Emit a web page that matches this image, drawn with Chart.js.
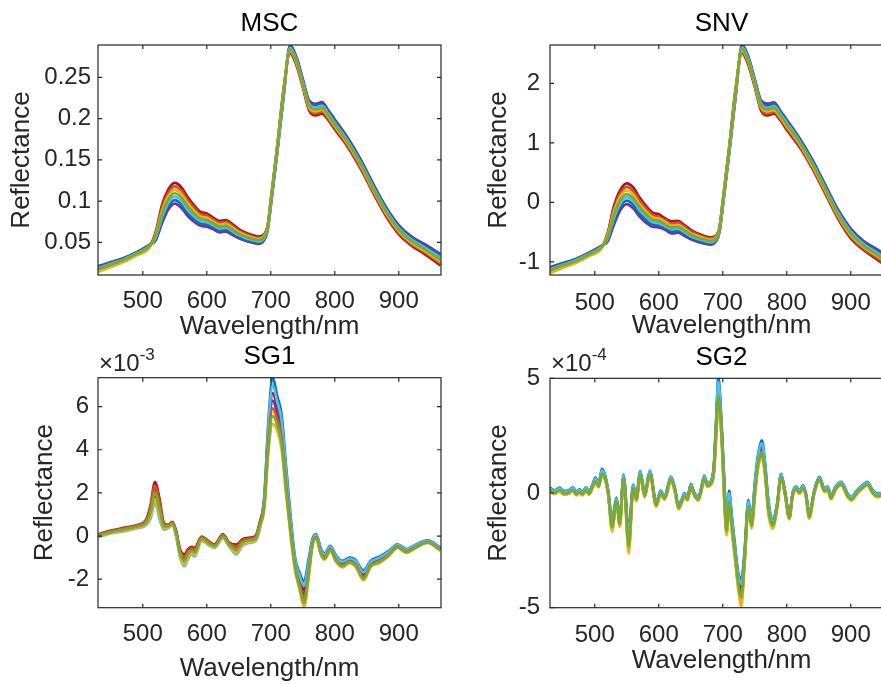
<!DOCTYPE html>
<html>
<head>
<meta charset="utf-8">
<title>MSC / SNV / SG1 / SG2 spectra</title>
<script src="https://cdn.jsdelivr.net/npm/chart.js@4.4.1/dist/chart.umd.min.js"></script>
<style>
  html, body { margin: 0; padding: 0; background: #fff; }
  body { width: 881px; height: 684px; position: relative; overflow: hidden; }
  canvas { position: absolute; }
</style>
</head>
<body>
<canvas id="msc-chart" width="450" height="345" style="left:0;top:0"></canvas>
<canvas id="snv-chart" width="450" height="345" style="left:450px;top:0"></canvas>
<canvas id="sg1-chart" width="450" height="344" style="left:0;top:340px"></canvas>
<canvas id="sg2-chart" width="450" height="344" style="left:450px;top:340px"></canvas>
<script>
// x axis (nm) shared by the four panels
const xTicks = [500, 600, 700, 800, 900];

// ---- MSC ----
const mscWavelength = [430,450,470,490,510,520,530,540,550,560,570,580,590,600,610,620,630,640,650,660,670,680,690,695,700,710,720,730,740,750,760,770,780,790,800,820,840,860,880,900,920,940,965];
const mscTicks = [0.05, 0.1, 0.15, 0.2, 0.25];
const mscBlue = [0.0198,0.025,0.0302,0.0373,0.0463,0.0537,0.0767,0.094,0.1012,0.0962,0.0858,0.0783,0.0728,0.0717,0.0683,0.0643,0.0653,0.0612,0.0568,0.0537,0.0515,0.0495,0.0542,0.065,0.0952,0.1593,0.2277,0.2873,0.2733,0.2463,0.22,0.2157,0.2177,0.208,0.197,0.1752,0.1492,0.1192,0.0912,0.0692,0.0552,0.046,0.0337];
const mscOrange = [0.0152,0.021,0.0268,0.0347,0.0437,0.0603,0.0913,0.11,0.1178,0.1128,0.1012,0.0917,0.0842,0.0823,0.0777,0.0737,0.0747,0.0698,0.0642,0.0603,0.0575,0.0555,0.0588,0.069,0.0998,0.1647,0.2343,0.2807,0.2667,0.2397,0.212,0.2063,0.2083,0.2,0.189,0.1678,0.1418,0.1118,0.0838,0.0618,0.0478,0.038,0.0243];
const mscYellow = [0.014,0.02,0.026,0.034,0.043,0.0587,0.0877,0.106,0.1137,0.1087,0.0973,0.0883,0.0813,0.0797,0.0753,0.0713,0.0723,0.0677,0.0623,0.0587,0.056,0.054,0.0577,0.068,0.0987,0.1633,0.2327,0.2823,0.2683,0.2413,0.214,0.2087,0.2107,0.202,0.191,0.1697,0.1437,0.1137,0.0857,0.0637,0.0497,0.04,0.0267];
const mscPurple = [0.021,0.026,0.031,0.038,0.047,0.052,0.073,0.09,0.097,0.092,0.082,0.075,0.07,0.069,0.066,0.062,0.063,0.059,0.055,0.052,0.05,0.048,0.053,0.064,0.094,0.158,0.226,0.289,0.275,0.248,0.222,0.218,0.22,0.21,0.199,0.177,0.151,0.121,0.093,0.071,0.057,0.048,0.036];
const mscGreen = [0.0175,0.023,0.0285,0.036,0.045,0.057,0.084,0.102,0.1095,0.1045,0.0935,0.085,0.0785,0.077,0.073,0.069,0.07,0.0655,0.0605,0.057,0.0545,0.0525,0.0565,0.067,0.0975,0.162,0.231,0.284,0.27,0.243,0.216,0.211,0.213,0.204,0.193,0.1715,0.1455,0.1155,0.0875,0.0655,0.0515,0.042,0.029];
const mscCyan = [0.0187,0.024,0.0293,0.0367,0.0457,0.0553,0.0803,0.098,0.1053,0.1003,0.0897,0.0817,0.0757,0.0743,0.0707,0.0667,0.0677,0.0633,0.0587,0.0553,0.053,0.051,0.0553,0.066,0.0963,0.1607,0.2293,0.2857,0.2717,0.2447,0.218,0.2133,0.2153,0.206,0.195,0.1733,0.1473,0.1173,0.0893,0.0673,0.0533,0.044,0.0313];
const mscMaroon = [0.0163,0.022,0.0277,0.0353,0.0443,0.062,0.095,0.114,0.122,0.117,0.105,0.095,0.087,0.085,0.08,0.076,0.077,0.072,0.066,0.062,0.059,0.057,0.06,0.07,0.101,0.166,0.236,0.279,0.265,0.238,0.21,0.204,0.206,0.198,0.187,0.166,0.14,0.11,0.082,0.06,0.046,0.036,0.022];

// ---- SNV ----
const snvWavelength = [430,450,470,490,510,520,530,540,550,560,570,580,590,600,610,620,630,640,650,660,670,680,690,695,700,710,720,730,740,750,760,770,780,790,800,820,840,860,880,900,920,940,965];
const snvTicks = [-1, 0, 1, 2];
const snvBlue = [-1.11,-1.03,-0.96,-0.86,-0.74,-0.63,-0.31,-0.07,0.03,-0.04,-0.19,-0.29,-0.37,-0.38,-0.43,-0.49,-0.47,-0.53,-0.59,-0.63,-0.67,-0.69,-0.63,-0.48,-0.06,0.84,1.79,2.62,2.43,2.05,1.68,1.62,1.65,1.52,1.36,1.06,0.70,0.28,-0.15,-0.47,-0.68,-0.81,-0.98];
const snvOrange = [-1.17,-1.09,-1.01,-0.90,-0.77,-0.54,-0.11,0.15,0.26,0.19,0.03,-0.10,-0.21,-0.24,-0.30,-0.36,-0.34,-0.41,-0.49,-0.54,-0.58,-0.61,-0.56,-0.42,0.01,0.91,1.88,2.53,2.34,1.96,1.57,1.49,1.52,1.41,1.25,0.96,0.59,0.18,-0.25,-0.57,-0.78,-0.92,-1.12];
const snvYellow = [-1.19,-1.10,-1.02,-0.91,-0.78,-0.56,-0.16,0.10,0.20,0.13,-0.03,-0.15,-0.25,-0.27,-0.33,-0.39,-0.38,-0.44,-0.52,-0.56,-0.60,-0.63,-0.58,-0.44,-0.01,0.89,1.86,2.55,2.36,1.98,1.60,1.53,1.55,1.43,1.28,0.98,0.62,0.20,-0.22,-0.55,-0.75,-0.89,-1.08];
const snvPurple = [-1.09,-1.02,-0.95,-0.85,-0.73,-0.66,-0.37,-0.13,-0.03,-0.10,-0.24,-0.34,-0.41,-0.42,-0.46,-0.52,-0.51,-0.56,-0.62,-0.66,-0.69,-0.71,-0.64,-0.49,-0.07,0.82,1.77,2.65,2.45,2.07,1.71,1.66,1.68,1.54,1.39,1.08,0.72,0.30,-0.12,-0.44,-0.65,-0.78,-0.95];
const snvGreen = [-1.14,-1.06,-0.99,-0.88,-0.76,-0.59,-0.21,0.04,0.14,0.07,-0.08,-0.20,-0.29,-0.31,-0.37,-0.42,-0.41,-0.47,-0.54,-0.59,-0.62,-0.65,-0.60,-0.45,-0.02,0.88,1.84,2.58,2.38,2.00,1.63,1.56,1.59,1.46,1.31,1.01,0.65,0.23,-0.20,-0.52,-0.73,-0.87,-1.05];
const snvCyan = [-1.12,-1.05,-0.97,-0.87,-0.75,-0.61,-0.26,-0.02,0.09,0.02,-0.13,-0.24,-0.33,-0.35,-0.40,-0.45,-0.44,-0.50,-0.57,-0.61,-0.64,-0.67,-0.61,-0.46,-0.04,0.86,1.81,2.60,2.41,2.03,1.66,1.59,1.62,1.49,1.34,1.03,0.67,0.25,-0.17,-0.49,-0.70,-0.84,-1.02];
const snvMaroon = [-1.16,-1.08,-1.00,-0.89,-0.77,-0.52,-0.06,0.21,0.32,0.25,0.08,-0.06,-0.17,-0.20,-0.27,-0.32,-0.31,-0.38,-0.46,-0.52,-0.56,-0.59,-0.55,-0.41,0.03,0.93,1.91,2.51,2.31,1.94,1.54,1.46,1.49,1.38,1.22,0.93,0.57,0.15,-0.27,-0.60,-0.80,-0.95,-1.15];

// ---- SG1 (values x 10^-3) ----
const sg1Wavelength = [430,450,470,490,505,512,519,526,533,540,546,552,558,565,571,576,581,592,602,612,625,635,646,656,666,676,683,690,696,703,710,717,724,731,738,745,752,759,765,771,778,784,793,802,812,823,832,845,856,870,884,898,912,925,945,965];
const sg1Ticks = [-2, 0, 2, 4, 6];
const sg1Blue = [-0.01,0.16,0.27,0.40,0.58,1.00,1.87,1.12,0.40,0.43,0.55,0.08,-0.83,-1.22,-0.90,-0.73,-0.82,-0.15,-0.34,-0.49,-0.04,-0.43,-0.70,-0.35,-0.24,-0.17,0.45,1.90,5.20,7.35,6.50,5.60,3.20,0.90,-1.00,-1.70,-2.10,-1.10,-0.15,0.08,-0.55,-0.80,-0.45,-0.90,-1.15,-1.00,-1.10,-1.60,-1.15,-0.95,-0.70,-0.38,-0.60,-0.42,-0.20,-0.52];
const sg1Orange = [0.06,0.23,0.35,0.48,0.71,1.30,2.34,1.59,0.55,0.50,0.63,0.21,-0.66,-0.94,-0.68,-0.56,-0.62,-0.05,-0.25,-0.41,0.05,-0.33,-0.48,-0.20,-0.12,-0.04,0.60,1.50,4.27,5.92,5.43,4.53,2.33,0.30,-1.40,-2.23,-2.90,-1.70,-0.38,-0.05,-0.75,-1.00,-0.62,-1.10,-1.35,-1.17,-1.30,-1.90,-1.35,-1.15,-0.87,-0.49,-0.72,-0.53,-0.28,-0.63];
const sg1Yellow = [-0.03,0.14,0.25,0.38,0.54,0.90,1.71,0.96,0.35,0.40,0.53,0.04,-0.89,-1.31,-0.98,-0.79,-0.88,-0.19,-0.37,-0.52,-0.07,-0.47,-0.78,-0.40,-0.28,-0.21,0.40,1.30,3.80,5.20,4.90,4.00,1.90,0.00,-1.60,-2.50,-3.30,-2.00,-0.50,-0.12,-0.85,-1.10,-0.70,-1.20,-1.45,-1.25,-1.40,-2.05,-1.45,-1.25,-0.95,-0.55,-0.78,-0.58,-0.32,-0.68];
const sg1Purple = [0.04,0.21,0.33,0.45,0.67,1.20,2.18,1.43,0.50,0.47,0.61,0.17,-0.72,-1.03,-0.75,-0.62,-0.68,-0.09,-0.28,-0.44,0.02,-0.37,-0.55,-0.25,-0.16,-0.08,0.55,1.60,4.50,6.28,5.70,4.80,2.55,0.45,-1.30,-2.10,-2.70,-1.55,-0.33,-0.02,-0.70,-0.95,-0.58,-1.05,-1.30,-1.13,-1.25,-1.83,-1.30,-1.10,-0.83,-0.47,-0.69,-0.50,-0.26,-0.60];
const sg1Green = [0.02,0.19,0.30,0.43,0.63,1.10,2.03,1.28,0.45,0.45,0.58,0.13,-0.78,-1.13,-0.83,-0.68,-0.75,-0.12,-0.31,-0.47,-0.01,-0.40,-0.63,-0.30,-0.20,-0.13,0.50,1.40,4.03,5.56,5.17,4.27,2.12,0.15,-1.50,-2.37,-3.10,-1.85,-0.44,-0.09,-0.80,-1.05,-0.66,-1.15,-1.40,-1.21,-1.35,-1.98,-1.40,-1.20,-0.91,-0.52,-0.75,-0.55,-0.30,-0.65];
const sg1Cyan = [-0.05,0.12,0.22,0.35,0.50,0.80,1.55,0.80,0.30,0.38,0.50,0.00,-0.95,-1.40,-1.05,-0.85,-0.95,-0.22,-0.40,-0.55,-0.10,-0.50,-0.85,-0.45,-0.32,-0.25,0.35,1.80,4.97,6.99,6.23,5.33,2.98,0.75,-1.10,-1.83,-2.30,-1.25,-0.21,0.05,-0.60,-0.85,-0.49,-0.95,-1.20,-1.04,-1.15,-1.68,-1.20,-1.00,-0.74,-0.41,-0.63,-0.45,-0.22,-0.55];
const sg1Maroon = [0.08,0.25,0.38,0.50,0.75,1.40,2.50,1.75,0.60,0.52,0.66,0.25,-0.60,-0.85,-0.60,-0.50,-0.55,-0.02,-0.22,-0.38,0.08,-0.30,-0.40,-0.15,-0.08,0.00,0.65,1.70,4.73,6.63,5.97,5.07,2.77,0.60,-1.20,-1.97,-2.50,-1.40,-0.27,0.01,-0.65,-0.90,-0.53,-1.00,-1.25,-1.08,-1.20,-1.75,-1.25,-1.05,-0.78,-0.44,-0.66,-0.47,-0.24,-0.57];

// ---- SG2 (values x 10^-4) ----
const sg2Wavelength = [430,437,445,452,460,466,471,476,481,486,491,496,501,506,511,516,521,527,534,539,545,553,560,565,571,578,586,596,603,609,619,625,631,636,640,645,650,655,662,666,671,676,681,686,690,693,698,703,706,710,714,719,724,729,734,740,745,750,755,761,766,771,778,785,791,797,804,809,814,820,825,830,835,843,851,859,864,869,876,885,895,901,910,918,926,933,941,965];
const sg2Ticks = [-5, 0, 5];
const sg2Blue = [0.23,0.11,0.23,0.08,0.13,0.25,0.05,0.16,0.05,0.25,0.08,0.33,0.67,0.40,1.05,0.78,0.10,-1.12,-0.20,-1.12,0.80,-1.65,0.37,-0.15,0.96,0,0.98,-0.40,0.10,-0.14,0.72,0.23,-0.52,-0.27,-0.02,-0.17,0.40,0.05,-0.17,0.18,0.76,0.43,0.50,1.20,3.45,5.07,3.10,0.20,-1.25,0.10,-0.95,-2.25,-3.45,-3.75,-2.55,-0.30,-1.15,0.45,1.65,2.30,1.35,-0.25,-1.15,-0.45,0.83,0.12,-0.95,-0.02,0.28,0.12,0.33,-0.02,-0.88,0.12,0.70,0.20,0.28,-0.12,0.27,0.49,-0.02,-0.17,0.12,0.34,0.49,0.18,-0.02,0.13];
const sg2Orange = [0.10,-0.02,0.10,-0.05,0,0.12,-0.08,0.03,-0.08,0.12,-0.05,0.20,0.47,0.27,0.77,0.61,-0.07,-1.59,-0.40,-1.42,0.60,-2.48,0.17,-0.32,0.76,-0.17,0.81,-0.57,-0.03,-0.27,0.55,0.10,-0.69,-0.40,-0.15,-0.30,0.27,-0.08,-0.30,0.05,0.59,0.30,0.37,0.87,2.70,4.04,2.52,-0.63,-1.75,-0.48,-1.53,-2.75,-4.03,-4.75,-3.05,-0.63,-1.48,-0.13,1.15,1.63,0.85,-0.75,-1.48,-0.62,0.66,-0.01,-1.12,-0.15,0.15,-0.01,0.20,-0.15,-1.08,-0.01,0.57,0.07,0.15,-0.25,0.14,0.36,-0.15,-0.30,-0.01,0.21,0.36,0.05,-0.15,0];
const sg2Yellow = [0.07,-0.05,0.07,-0.08,-0.03,0.09,-0.11,0,-0.11,0.09,-0.08,0.17,0.43,0.24,0.71,0.58,-0.10,-1.68,-0.44,-1.48,0.56,-2.65,0.13,-0.35,0.72,-0.20,0.78,-0.60,-0.06,-0.30,0.52,0.07,-0.72,-0.43,-0.18,-0.33,0.24,-0.11,-0.33,0.02,0.56,0.27,0.34,0.80,2.55,3.83,2.40,-0.80,-1.85,-0.60,-1.65,-2.85,-4.15,-4.95,-3.15,-0.70,-1.55,-0.25,1.05,1.50,0.75,-0.85,-1.55,-0.65,0.63,-0.04,-1.15,-0.18,0.12,-0.04,0.17,-0.18,-1.12,-0.04,0.54,0.04,0.12,-0.28,0.11,0.33,-0.18,-0.33,-0.04,0.18,0.33,0.02,-0.18,-0.03];
const sg2Purple = [0.18,0.06,0.18,0.03,0.08,0.20,0,0.11,0,0.20,0.03,0.28,0.59,0.35,0.94,0.71,0.03,-1.31,-0.28,-1.24,0.72,-1.98,0.29,-0.22,0.88,-0.07,0.91,-0.47,0.05,-0.19,0.65,0.18,-0.59,-0.32,-0.07,-0.22,0.35,0,-0.22,0.13,0.69,0.38,0.45,1.07,3.15,4.66,2.87,-0.13,-1.45,-0.13,-1.18,-2.45,-3.68,-4.15,-2.75,-0.43,-1.28,0.22,1.45,2.03,1.15,-0.45,-1.28,-0.52,0.76,0.07,-1.02,-0.07,0.23,0.07,0.28,-0.07,-0.96,0.07,0.65,0.15,0.23,-0.17,0.22,0.44,-0.07,-0.22,0.07,0.29,0.44,0.13,-0.07,0.08];
const sg2Green = [0.12,0,0.12,-0.03,0.02,0.14,-0.06,0.05,-0.06,0.14,-0.03,0.22,0.51,0.29,0.82,0.65,-0.03,-1.49,-0.36,-1.36,0.64,-2.32,0.21,-0.28,0.80,-0.13,0.85,-0.53,-0.01,-0.25,0.59,0.12,-0.65,-0.38,-0.13,-0.28,0.29,-0.06,-0.28,0.07,0.63,0.32,0.39,0.93,2.85,4.24,2.63,-0.47,-1.65,-0.37,-1.42,-2.65,-3.92,-4.55,-2.95,-0.57,-1.42,-0.02,1.25,1.77,0.95,-0.65,-1.42,-0.58,0.70,0.01,-1.08,-0.13,0.17,0.01,0.22,-0.13,-1.04,0.01,0.59,0.09,0.17,-0.23,0.16,0.38,-0.13,-0.28,0.01,0.23,0.38,0.07,-0.13,0.02];
const sg2Cyan = [0.20,0.08,0.20,0.05,0.10,0.22,0.02,0.13,0.02,0.22,0.05,0.30,0.63,0.37,0.99,0.75,0.07,-1.21,-0.24,-1.18,0.76,-1.82,0.33,-0.18,0.92,-0.03,0.95,-0.43,0.07,-0.17,0.69,0.20,-0.55,-0.30,-0.05,-0.20,0.37,0.02,-0.20,0.15,0.73,0.40,0.47,1.13,3.30,4.86,2.98,0.03,-1.35,-0.02,-1.07,-2.35,-3.57,-3.95,-2.65,-0.37,-1.22,0.33,1.55,2.17,1.25,-0.35,-1.22,-0.48,0.80,0.09,-0.98,-0.05,0.25,0.09,0.30,-0.05,-0.92,0.09,0.67,0.17,0.25,-0.15,0.24,0.46,-0.05,-0.20,0.09,0.31,0.46,0.15,-0.05,0.10];
const sg2Maroon = [0.15,0.03,0.15,0,0.05,0.17,-0.03,0.08,-0.03,0.17,0,0.25,0.55,0.32,0.88,0.68,0,-1.40,-0.32,-1.30,0.68,-2.15,0.25,-0.25,0.84,-0.10,0.88,-0.50,0.02,-0.22,0.62,0.15,-0.62,-0.35,-0.10,-0.25,0.32,-0.03,-0.25,0.10,0.66,0.35,0.42,1.00,3.00,4.45,2.75,-0.30,-1.55,-0.25,-1.30,-2.55,-3.80,-4.35,-2.85,-0.50,-1.35,0.10,1.35,1.90,1.05,-0.55,-1.35,-0.55,0.73,0.04,-1.05,-0.10,0.20,0.04,0.25,-0.10,-1.00,0.04,0.62,0.12,0.20,-0.20,0.19,0.41,-0.10,-0.25,0.04,0.26,0.41,0.10,-0.10,0.05];

// MATLAB default line colours
const colors = {
  blue: '#0072BD', orange: '#D95319', yellow: '#EDB120', purple: '#7E2F8E',
  green: '#77AC30', cyan: '#4DBEEE', maroon: '#A2142F'
};

const FONT = '"Liberation Sans", Arial, Helvetica, sans-serif';
const TEXT = '#262626';

// box round the plot, inward tick marks on all four sides, and the x10^n label
const matlabAxes = {
  id: 'matlabAxes',
  afterDatasetsDraw(chart, args, opts) {
    const { ctx, chartArea: a, scales: { x, y } } = chart;
    ctx.save();
    ctx.strokeStyle = TEXT;
    ctx.lineWidth = 1.2;
    ctx.beginPath();
    x.ticks.forEach(t => {
      const px = x.getPixelForValue(t.value);
      ctx.moveTo(px, a.bottom); ctx.lineTo(px, a.bottom - 4);
      ctx.moveTo(px, a.top); ctx.lineTo(px, a.top + 4);
    });
    y.ticks.forEach(t => {
      const py = y.getPixelForValue(t.value);
      ctx.moveTo(a.left, py); ctx.lineTo(a.left + 4, py);
      ctx.moveTo(a.right, py); ctx.lineTo(a.right - 4, py);
    });
    ctx.stroke();
    ctx.strokeRect(a.left, a.top, a.right - a.left, a.bottom - a.top);
    if (opts.exponent) {
      ctx.fillStyle = TEXT;
      ctx.textBaseline = 'alphabetic';
      ctx.textAlign = 'left';
      ctx.font = '24px ' + FONT;
      ctx.fillText('\u00d710', a.left + 1, a.top - 7);
      const w = ctx.measureText('\u00d710').width;
      ctx.font = '17px ' + FONT;
      ctx.fillText(opts.exponent, a.left + 1 + w, a.top - 18);
    }
    ctx.restore();
  }
};

function makePanel(id, p) {
  return new Chart(document.getElementById(id), {
    type: 'line',
    data: {
      datasets: p.series.map(([values, color]) => ({
        data: p.wavelength.map((w, i) => ({ x: w, y: values[i] })),
        borderColor: color,
        borderWidth: 2.7,
        pointRadius: 0,
        fill: false,
        cubicInterpolationMode: 'monotone',
        clip: 0
      }))
    },
    options: {
      responsive: false,
      animation: false,
      devicePixelRatio: 1,
      layout: { padding: { left: 0, right: p.padRight, top: 0, bottom: 0 } },
      plugins: {
        legend: { display: false },
        tooltip: { enabled: false },
        title: {
          display: true, text: p.title, color: '#000', fullSize: false,
          font: { family: FONT, size: 26, weight: 'normal', lineHeight: 1 },
          padding: { top: p.titleTop, bottom: p.titleBottom }
        },
        matlabAxes: { exponent: p.exponent }
      },
      scales: {
        x: {
          type: 'linear', min: 430, max: 966,
          grid: { display: false, drawTicks: false },
          border: { display: false },
          afterBuildTicks: s => { s.ticks = xTicks.map(v => ({ value: v })); },
          afterFit: s => { s.height = p.xAxisHeight; },
          ticks: { color: TEXT, font: { family: FONT, size: 24, lineHeight: 1.2 }, padding: p.xTickPad, maxRotation: 0, autoSkip: false },
          title: { display: true, text: 'Wavelength/nm', color: TEXT, font: { family: FONT, size: 26, lineHeight: 1 }, padding: { top: 0, bottom: p.xTitlePad } }
        },
        y: {
          type: 'linear', min: p.yMin, max: p.yMax,
          grid: { display: false, drawTicks: false },
          border: { display: false },
          afterBuildTicks: s => { s.ticks = p.yTicks.map(v => ({ value: v })); },
          afterFit: s => { s.width = p.yAxisWidth; },
          ticks: { color: TEXT, font: { family: FONT, size: 24, lineHeight: 1.2 }, padding: p.yTickPad, callback: v => String(v) },
          title: { display: true, text: 'Reflectance', color: TEXT, font: { family: FONT, size: 26, lineHeight: 1 }, padding: { top: p.yTitlePad, bottom: 0 } }
        }
      }
    },
    plugins: [matlabAxes]
  });
}

makePanel('msc-chart', {
  title: 'MSC', wavelength: mscWavelength, yTicks: mscTicks, yMin: 0.0104, yMax: 0.2892,
  series: [[mscGreen, colors.green], [mscYellow, colors.yellow], [mscOrange, colors.orange], [mscCyan, colors.cyan], [mscBlue, colors.blue], [mscPurple, colors.purple], [mscMaroon, colors.maroon]],
  padRight: 9, yAxisWidth: 98, xAxisHeight: 70, titleTop: 11, titleBottom: 8,
  yTitlePad: 9, yTickPad: 7, xTickPad: 12, xTitlePad: 5
});

makePanel('snv-chart', {
  title: 'SNV', wavelength: snvWavelength, yTicks: snvTicks, yMin: -1.22, yMax: 2.645,
  series: [[snvGreen, colors.green], [snvYellow, colors.yellow], [snvOrange, colors.orange], [snvCyan, colors.cyan], [snvBlue, colors.blue], [snvPurple, colors.purple], [snvMaroon, colors.maroon]],
  padRight: 7, yAxisWidth: 100, xAxisHeight: 70, titleTop: 11, titleBottom: 8,
  yTitlePad: 36, yTickPad: 10, xTickPad: 14, xTitlePad: 6
});

makePanel('sg1-chart', {
  title: 'SG1', wavelength: sg1Wavelength, yTicks: sg1Ticks, yMin: -3.32, yMax: 7.34, exponent: '-3',
  series: [[sg1Green, colors.green], [sg1Yellow, colors.yellow], [sg1Orange, colors.orange], [sg1Cyan, colors.cyan], [sg1Blue, colors.blue], [sg1Purple, colors.purple], [sg1Maroon, colors.maroon]],
  padRight: 9, yAxisWidth: 98, xAxisHeight: 76.3, titleTop: 4, titleBottom: 7.7,
  yTitlePad: 32, yTickPad: 9, xTickPad: 12.5, xTitlePad: 2.5
});

makePanel('sg2-chart', {
  title: 'SG2', wavelength: sg2Wavelength, yTicks: sg2Ticks, yMin: -5, yMax: 5, exponent: '-4',
  series: [[sg2Green, colors.green], [sg2Yellow, colors.yellow], [sg2Orange, colors.orange], [sg2Cyan, colors.cyan], [sg2Blue, colors.blue], [sg2Purple, colors.purple], [sg2Maroon, colors.maroon]],
  padRight: 7, yAxisWidth: 100, xAxisHeight: 76.3, titleTop: 5, titleBottom: 7.3,
  yTitlePad: 36, yTickPad: 10, xTickPad: 13.5, xTitlePad: 10
});
</script>
</body>
</html>
